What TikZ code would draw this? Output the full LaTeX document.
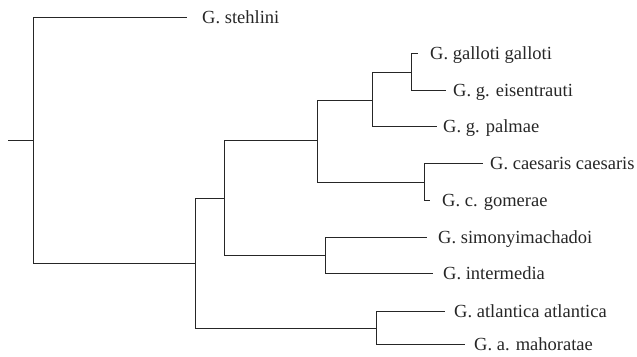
\documentclass[tikz,border=0pt]{standalone}
\usepackage{fontspec}
\setmainfont{Liberation Serif}
\begin{document}
\begin{tikzpicture}[x=1pt,y=-1pt,
  branch/.style={draw=black!85, line width=1pt},
  taxon/.style={anchor=base west, inner sep=0pt, font=\fontsize{18.5}{22}\selectfont, text=black!85}]
\useasboundingbox (0,0) rectangle (637,356);
% internal nodes
\coordinate (r0) at (8,140);
\coordinate (n1) at (33,140);
\coordinate (n2) at (195,263);
\coordinate (n3) at (224,198);
\coordinate (n4) at (317,140);
\coordinate (n5) at (372,100);
\coordinate (n6) at (411,72);
\coordinate (n7) at (424,182);
\coordinate (n8) at (325,255);
\coordinate (n9) at (376,328);
% tips
\coordinate (tStehlini) at (187,17);
\coordinate (tGalloti) at (418,53);
\coordinate (tEisen) at (446,90);
\coordinate (tPalmae) at (437,126);
\coordinate (tCaes) at (483,163);
\coordinate (tGomer) at (430,200);
\coordinate (tSimon) at (427,237);
\coordinate (tInter) at (433,273);
\coordinate (tAtl) at (445,311);
\coordinate (tMah) at (465,344);
% labels
\node[taxon] (stehlini) at (202,23.5) {G. stehlini};
\node[taxon] (galloti) at (430,59.5) {G. galloti galloti};
\node[taxon] (eisen) at (453,96.5) {G. g. eisentrauti};
\node[taxon] (palmae) at (443,132.5) {G. g. palmae};
\node[taxon] (caes) at (490,169.5) {G. caesaris caesaris};
\node[taxon] (gomer) at (442,206.5) {G. c. gomerae};
\node[taxon] (simon) at (438,243.5) {G. simonyimachadoi};
\node[taxon] (inter) at (443,279.5) {G. intermedia};
\node[taxon] (atl) at (454,317.5) {G. atlantica atlantica};
\node[taxon] (mah) at (474,350.5) {G. a. mahoratae};
% branches
\draw[branch] (r0) -- (n1);
\draw[branch] (n1) |- (tStehlini);
\draw[branch] (n1) |- (n2);
\draw[branch] (n2) |- (n3);
\draw[branch] (n2) |- (n9);
\draw[branch] (n3) |- (n4);
\draw[branch] (n3) |- (n8);
\draw[branch] (n4) |- (n5);
\draw[branch] (n4) |- (n7);
\draw[branch] (n5) |- (n6);
\draw[branch] (n5) |- (tPalmae);
\draw[branch] (n6) |- (tGalloti);
\draw[branch] (n6) |- (tEisen);
\draw[branch] (n7) |- (tCaes);
\draw[branch] (n7) |- (tGomer);
\draw[branch] (n8) |- (tSimon);
\draw[branch] (n8) |- (tInter);
\draw[branch] (n9) |- (tAtl);
\draw[branch] (n9) |- (tMah);
\end{tikzpicture}
\end{document}
